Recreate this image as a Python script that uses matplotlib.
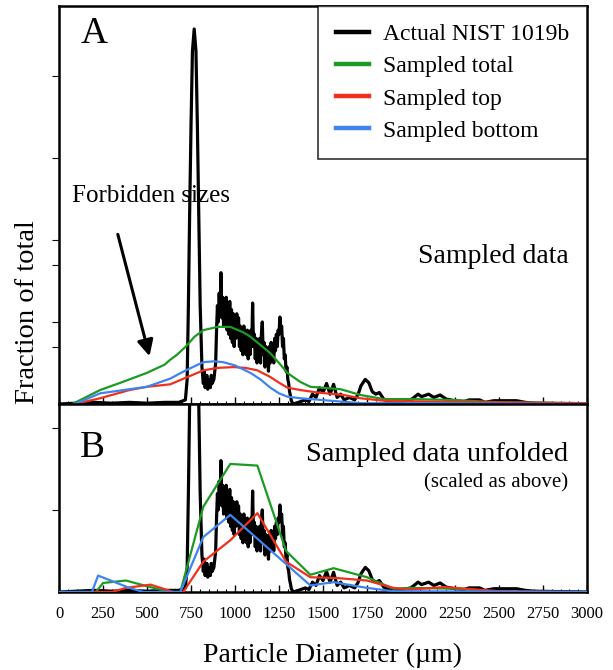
import matplotlib
matplotlib.use('Agg')
import matplotlib.pyplot as plt
from matplotlib.ticker import MultipleLocator

plt.rcParams['font.family'] = ['Liberation Serif', 'DejaVu Serif']

# actual NIST 1019b distribution
nist_x = [0, 100, 200, 300, 400, 500, 600, 680, 718, 728, 735, 742, 750, 758, 768, 778, 786, 794, 802,
          812, 820, 825, 830, 840, 845, 850, 860, 865, 870, 880, 885,
          890, 895, 900, 905, 910, 915, 920, 925, 930, 935, 940, 945, 950, 955, 960, 965, 970, 975,
          980, 985, 990, 995, 1000, 1005, 1010, 1015, 1020, 1025, 1030, 1035, 1040, 1045, 1050, 1055,
          1060, 1065, 1070, 1075, 1080, 1085, 1090, 1095, 1100, 1105, 1110, 1115, 1120, 1125, 1130,
          1135, 1140, 1145, 1150, 1155, 1160, 1165, 1170, 1175, 1180, 1185, 1190, 1195, 1200, 1205,
          1210, 1215, 1220, 1225, 1230, 1235, 1240, 1245, 1250, 1255, 1260, 1265, 1270, 1275, 1280,
          1285, 1290, 1295, 1300, 1305, 1310, 1315, 1320, 1330,
          1360, 1400, 1420, 1440, 1460, 1480, 1500, 1520, 1540, 1560, 1580, 1600, 1620, 1650, 1680,
          1700, 1715, 1740, 1760, 1780, 1800, 1820, 1845, 1870, 1900, 1950, 2000, 2040, 2060, 2100,
          2130, 2165, 2200, 2250, 2300, 2330, 2390, 2420, 2470, 2500, 2600, 2650, 2700, 3000]
nist_y = [0.0, 0.01, 0.02, 0.01, 0.02, 0.01, 0.02, 0.02, 0.05, 0.3, 1.2, 2.3, 3.4, 4.3, 4.57, 4.3, 3.4, 2.3, 1.2,
          0.45, 0.25, 0.4, 0.2, 0.35, 0.18, 0.3, 0.2, 0.35, 0.25, 0.3, 0.4,
          0.5, 0.9, 1.2, 1.0, 1.35, 1.1, 1.6, 1.05, 1.3, 0.95, 1.25, 1.0, 1.3, 0.9, 1.2, 0.85, 1.25, 0.8,
          1.15, 0.75, 1.1, 0.7, 1.05, 0.8, 1.1, 0.85, 1.05, 0.7, 0.95, 0.65, 0.9, 0.6, 0.95, 0.7,
          0.85, 0.6, 0.9, 0.55, 0.85, 0.6, 0.9, 0.7, 1.23, 0.7, 0.85, 0.55, 0.8, 0.5, 0.75,
          0.55, 0.8, 0.5, 0.85, 1.0, 0.6, 0.75, 0.45, 0.7, 0.5, 0.65, 0.4, 0.7, 0.5, 0.75,
          0.55, 0.7, 0.5, 0.8, 0.65, 0.85, 0.7, 0.9, 0.85, 1.06, 0.9, 0.95, 0.7, 0.8, 0.55,
          0.6, 0.4, 0.45, 0.3, 0.25, 0.15, 0.1, 0.04, 0.0,
          0.02, 0.05, 0.03, 0.12, 0.08, 0.2, 0.14, 0.25, 0.12, 0.24, 0.08, 0.12, 0.05, 0.08, 0.05,
          0.12, 0.22, 0.3, 0.26, 0.15, 0.12, 0.14, 0.06, 0.03, 0.02, 0.03, 0.05, 0.12, 0.09, 0.12,
          0.08, 0.11, 0.06, 0.04, 0.03, 0.05, 0.05, 0.02, 0.04, 0.04, 0.04, 0.02, 0.01, 0.0]

# panel A: sampled data (smooth curves)
a_tot_x = [75, 150, 233, 350, 500, 600, 632, 670, 720, 770, 820, 900, 973, 1050, 1087, 1144, 1200,
           1250, 1297, 1370, 1428, 1485, 1600, 1713, 1845, 2000, 2226, 2510, 3000]
a_tot_y = [0.0, 0.08, 0.17, 0.26, 0.38, 0.48, 0.54, 0.6, 0.7, 0.82, 0.9, 0.94, 0.94, 0.87, 0.82, 0.72, 0.62,
           0.5, 0.38, 0.27, 0.21, 0.2, 0.18, 0.11, 0.06, 0.06, 0.05, 0.02, 0.01]
a_top_x = [90, 233, 400, 500, 632, 720, 820, 900, 990, 1060, 1127, 1200, 1250, 1297, 1372, 1468,
           1617, 1713, 1845, 2100, 2500, 3000]
a_top_y = [0.0, 0.07, 0.17, 0.21, 0.24, 0.32, 0.41, 0.44, 0.45, 0.44, 0.41, 0.33, 0.26, 0.2, 0.17, 0.14,
           0.11, 0.07, 0.04, 0.03, 0.02, 0.01]
a_bot_x = [90, 233, 400, 500, 632, 720, 820, 880, 933, 1000, 1087, 1144, 1200, 1250, 1297, 1372,
           1485, 1600, 1713, 2000, 3000]
a_bot_y = [0.0, 0.13, 0.18, 0.21, 0.31, 0.41, 0.51, 0.52, 0.51, 0.47, 0.38, 0.3, 0.2, 0.13, 0.09, 0.07,
           0.05, 0.03, 0.01, 0.01, 0.0]

# panel B: unfolded (piecewise)
b_tot_x = [0, 210, 250, 380, 500, 630, 689, 820, 973, 1127, 1290, 1428, 1560, 1750, 1900, 2000, 2250, 2500, 3000]
b_tot_y = [0, 0, 0.11, 0.14, 0.07, 0.0, 0.0, 1.04, 1.56, 1.54, 0.5, 0.21, 0.29, 0.18, 0.04, 0.05, 0.04, 0.0, 0.0]
b_top_x = [0, 300, 380, 520, 650, 706, 820, 973, 1127, 1290, 1428, 1580, 1750, 1900, 2000, 2190, 2500, 3000]
b_top_y = [0, 0, 0.05, 0.09, 0.0, 0.0, 0.37, 0.63, 0.96, 0.37, 0.18, 0.17, 0.14, 0.05, 0.03, 0.06, 0.01, 0.0]
b_bot_x = [0, 187, 222, 400, 480, 689, 820, 973, 1428, 1560, 1750, 1900, 3000]
b_bot_y = [0, 0, 0.2, 0.05, 0.0, 0.0, 0.67, 0.94, 0.08, 0.12, 0.05, 0.01, 0.0]

xticks = [0, 250, 500, 750, 1000, 1250, 1500, 1750, 2000, 2250, 2500, 2750, 3000]

green = '#1c9a22'
red = '#f0301c'
blue = '#3d84ee'

fig = plt.figure(figsize=(6.13, 6.7), dpi=100)
axA = fig.add_axes([0.0963, 0.397, 0.8613, 0.594])
axB = fig.add_axes([0.0963, 0.1164, 0.8613, 0.2806])

for ax in (axA, axB):
    ax.plot(nist_x, nist_y, color='black', lw=2.3, label='Actual NIST 1019b', zorder=3)
    ax.set_xlim(0, 3000)
    ax.xaxis.set_major_locator(MultipleLocator(250))
    ax.xaxis.set_minor_locator(MultipleLocator(50))
    ax.tick_params(axis='x', which='major', direction='in', length=5, width=1)
    ax.tick_params(axis='x', which='minor', direction='in', length=2.5, width=0.8)
    ax.tick_params(axis='y', direction='out', length=5, width=0.8, labelleft=False)
    for s in ax.spines.values():
        s.set_linewidth(1.8)

axA.plot(a_tot_x, a_tot_y, color=green, lw=1.6, label='Sampled total', zorder=4)
axA.plot(a_top_x, a_top_y, color=red, lw=1.6, label='Sampled top', zorder=4)
axA.plot(a_bot_x, a_bot_y, color=blue, lw=1.6, label='Sampled bottom', zorder=4)
axA.set_ylim(0, 4.85)
axA.set_yticks([0.7, 1.0, 1.7, 2.0, 3.0, 4.0])
axA.tick_params(axis='x', labelbottom=False)

axB.plot(b_tot_x, b_tot_y, color=green, lw=1.6, zorder=4)
axB.plot(b_top_x, b_top_y, color=red, lw=1.6, zorder=4)
axB.plot(b_bot_x, b_bot_y, color=blue, lw=1.6, zorder=4)
axB.set_ylim(0, 2.29)
axB.set_yticks([1.0, 2.0])
axB.set_xticks(xticks)
axB.tick_params(axis='x', labelsize=12, pad=10)

leg = axA.legend(loc='upper right', fontsize=17, frameon=True, fancybox=False,
                 edgecolor='black', handlelength=1.4, handletextpad=0.6, borderpad=0.75,
                 labelspacing=0.45, borderaxespad=0)
leg.get_frame().set_linewidth(1.2)
for h in leg.get_lines():
    h.set_linewidth(3.2)

axA.text(0.04, 0.93, 'A', transform=axA.transAxes, fontsize=27, va='center')
axB.text(0.04, 0.77, 'B', transform=axB.transAxes, fontsize=27, va='center')
axA.text(0.965, 0.37, 'Sampled data', transform=axA.transAxes, fontsize=20, ha='right', va='center')
axB.text(0.965, 0.73, 'Sampled data unfolded', transform=axB.transAxes, fontsize=20.5, ha='right', va='center')
axB.text(0.965, 0.58, '(scaled as above)', transform=axB.transAxes, fontsize=15, ha='right', va='center')

axA.text(75, 2.53, 'Forbidden sizes', fontsize=18, ha='left', va='center', zorder=5)
axA.annotate('', xy=(518, 0.55), xytext=(330, 2.1),
             arrowprops=dict(arrowstyle='-|>', color='black', lw=2.2, mutation_scale=24))

fig.text(0.045, 0.534, 'Fraction of total', rotation=90, fontsize=20.5, ha='center', va='center')
fig.text(0.542, 0.022, 'Particle Diameter (\u00b5m)', fontsize=20, ha='center', va='center')

fig.savefig('out.png', dpi=100)
